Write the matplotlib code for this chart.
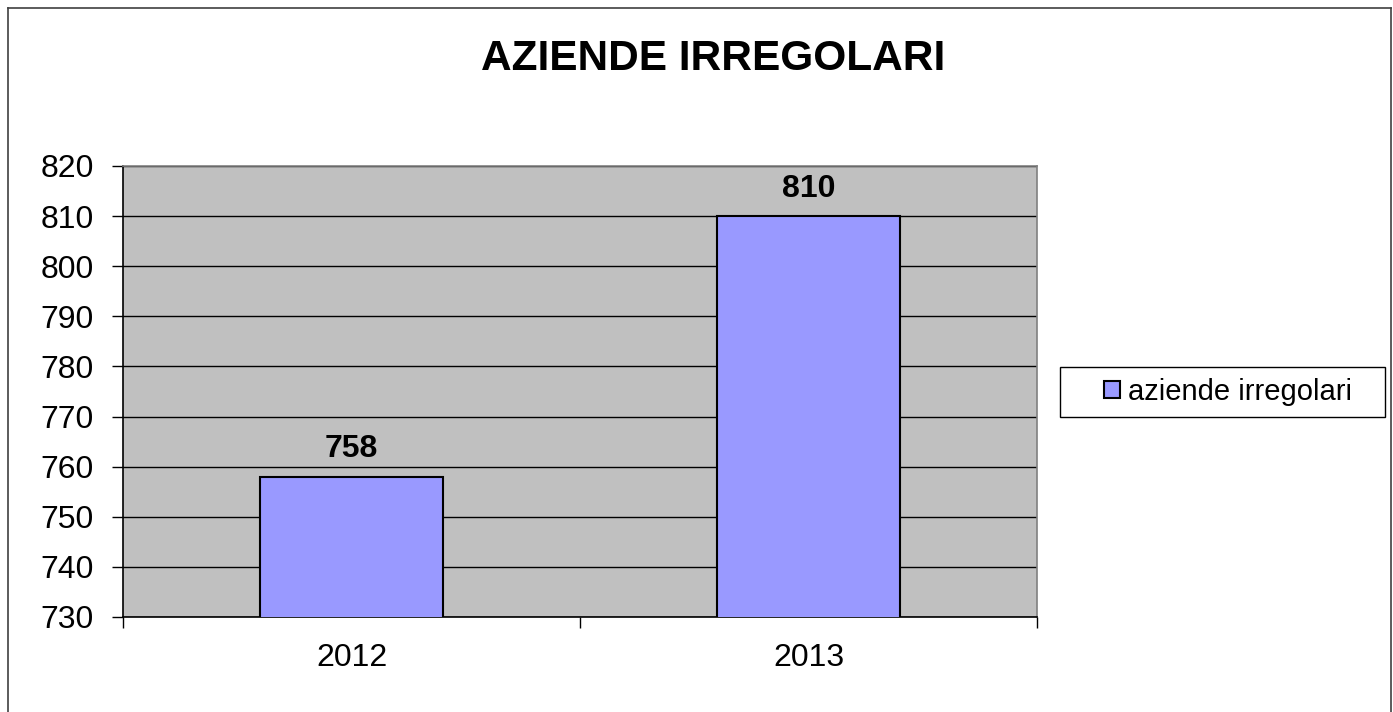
import matplotlib
matplotlib.use("Agg")
import matplotlib.pyplot as plt
from matplotlib.lines import Line2D
from matplotlib.patches import Rectangle

categories = ["2012", "2013"]
values = [758, 810]
series_name = "aziende irregolari"
title = "AZIENDE IRREGOLARI"
y_ticks = [730, 740, 750, 760, 770, 780, 790, 800, 810, 820]

plt.rcParams['font.family'] = ['Liberation Sans', 'DejaVu Sans']

W, H = 1393, 712
fig = plt.figure(figsize=(W / 100, H / 100), dpi=100)
fig.patch.set_facecolor("white")

ax = fig.add_axes([123 / W, 1 - 617 / H, (1037 - 123) / W, (617 - 166) / H])
ax.set_facecolor("#C0C0C0")
x = list(range(len(categories)))
bars = ax.bar(x, values, width=0.4, color="#9999FF", edgecolor="black",
              linewidth=1.5, zorder=3)
ax.set_xlim(-0.5, len(categories) - 0.5)
ax.set_ylim(y_ticks[0], y_ticks[-1])
ax.set_yticks(y_ticks)
ax.set_yticklabels([str(t) for t in y_ticks])
ax.grid(axis="y", color="black", linewidth=1.0, zorder=1)
ax.set_axisbelow(True)

ax.set_xticks([i - 0.5 for i in range(len(categories) + 1)])
ax.set_xticklabels([])
ax.set_xticks(x, minor=True)
ax.set_xticklabels(categories, minor=True)
ax.tick_params(axis="x", which="major", length=8, width=1, color="black", direction="out")
ax.tick_params(axis="x", which="minor", length=0, pad=19, labelsize=23)
ax.tick_params(axis="y", length=8, width=1, color="black", direction="out", pad=13, labelsize=23)

for s in ["left", "bottom"]:
    ax.spines[s].set_color("black")
    ax.spines[s].set_linewidth(1.2)
for s in ["top", "right"]:
    ax.spines[s].set_color("#808080")
    ax.spines[s].set_linewidth(1.2)

for b, v in zip(bars, values):
    ax.annotate(str(v), (b.get_x() + b.get_width() / 2, v), xytext=(0, 14),
                textcoords="offset points", ha="center", va="baseline",
                fontsize=23, fontweight="bold")

fig.text(713 / W, 1 - 59 / H, title, ha="center", va="center",
         fontsize=30.5, fontweight="bold")

handle = Rectangle((0, 0), 1, 1, facecolor="#9999FF", edgecolor="black", linewidth=1.5)
leg = fig.legend([handle], [series_name], loc="center",
                 bbox_to_anchor=(1228 / W, 1 - 392 / H), frameon=False,
                 fontsize=21, handlelength=0.52, handleheight=0.52,
                 handletextpad=0.27, borderpad=0.0)

# legend frame
fig.add_artist(Rectangle((1060 / W, 1 - 417 / H), (1385 - 1060) / W, 50 / H,
                         transform=fig.transFigure, facecolor="none",
                         edgecolor="black", linewidth=1.0, zorder=0))

# figure border
fig.add_artist(Line2D([8 / W, 8 / W], [0, 1 - 8 / H], color="#404040", linewidth=1.2))
fig.add_artist(Line2D([8 / W, 1391 / W], [1 - 8 / H, 1 - 8 / H], color="#404040", linewidth=1.2))
fig.add_artist(Line2D([1391 / W, 1391 / W], [0, 1 - 8 / H], color="#404040", linewidth=1.2))

fig.savefig("out.png", dpi=100, facecolor="white")
